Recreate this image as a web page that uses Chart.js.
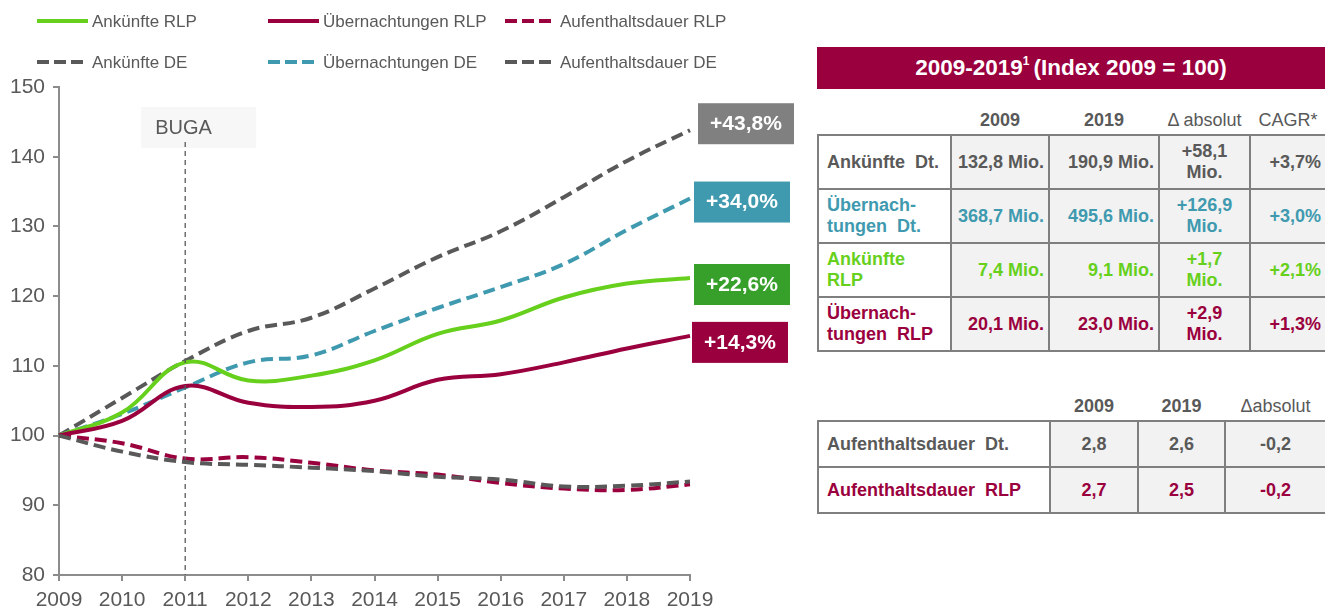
<!DOCTYPE html>
<html lang="de">
<head>
<meta charset="utf-8">
<script src="https://cdn.jsdelivr.net/npm/chart.js@4/dist/chart.umd.min.js"></script>
<style>
  html, body { margin: 0; padding: 0; background: #fff; }
  body { width: 1325px; height: 607px; position: relative; overflow: hidden; font-family: "Liberation Sans", Arial, sans-serif; }
  #chartBox { position: absolute; left: 0; top: 0; width: 800px; height: 607px; }
  .head { position: absolute; left: 817px; top: 47px; width: 508px; height: 42px; background: #9b003e; color: #fff;
    font-weight: bold; font-size: 22.5px; display: flex; align-items: center; justify-content: center; }
  .head sup { font-size: 12px; position: relative; top: -2px; margin-right: 4px; }
  table { position: absolute; border-collapse: collapse; font-size: 18px; font-weight: bold; }
  td { border: 2px solid #7f7f7f; background: #f2f2f2; padding: 0 4px; line-height: 21px; white-space: nowrap; }
  td.lbl { background: #fff; text-align: left; padding-left: 8px; }
  th { font-size: 18px; color: #595959; padding: 0 0 2px 0; border: none; background: none; height: 24px; }
  th.n { font-weight: normal; }
  #t1 { left: 817px; top: 108px; width: 510px; }
  #t2 { left: 817px; top: 394px; width: 510px; }
  #t1 td { height: 52px; }
  #t2 td { height: 44px; text-align: center; }
  #t2 td.lbl { text-align: left; }
  .r { text-align: right; }
  .c { text-align: center; }
</style>
</head>
<body>
<div id="chartBox"><canvas id="chart" width="800" height="607"></canvas></div>
<div class="head"><span>2009-2019<sup>1</sup>(Index 2009 = 100)</span></div>
<table id="t1"></table>
<table id="t2"></table>
<script>
  const years = ['2009', '2010', '2011', '2012', '2013', '2014', '2015', '2016', '2017', '2018', '2019'];
  const ankuenfteRLP = [100, 103.3, 110.5, 107.9, 108.6, 110.8, 114.6, 116.5, 119.8, 121.8, 122.6];
  const uebernachtungenRLP = [100, 102.1, 107.1, 104.7, 104.1, 105.0, 108.0, 108.8, 110.5, 112.5, 114.3];
  const aufenthaltRLP = [100, 98.9, 96.7, 96.9, 96.1, 95.0, 94.4, 93.2, 92.4, 92.2, 93.0];
  const ankuenfteDE = [100, 105.4, 110.7, 115.0, 116.9, 121.1, 125.6, 129.3, 134.2, 139.4, 143.8];
  const uebernachtungenDE = [100, 103.1, 106.9, 110.5, 111.5, 115.0, 118.3, 121.3, 124.6, 129.5, 134.0];
  const aufenthaltDE = [100, 97.7, 96.2, 95.8, 95.4, 94.9, 94.1, 93.7, 92.7, 92.8, 93.4];

  const yTicks = [80, 90, 100, 110, 120, 130, 140, 150];
  const bugaYear = '2011';
  const endLabels = ['+43,8%', '+34,0%', '+22,6%', '+14,3%'];

  const tableHead = ['2009', '2019', '\u0394 absolut', 'CAGR*'];
  const tableNames = ['Ankünfte&nbsp; Dt.', 'Übernach-<br>tungen&nbsp; Dt.', 'Ankünfte<br>RLP', 'Übernach-<br>tungen&nbsp; RLP'];
  const tableStart = ['132,8 Mio.', '368,7 Mio.', '7,4 Mio.', '20,1 Mio.'];
  const tableEnd = ['190,9 Mio.', '495,6 Mio.', '9,1 Mio.', '23,0 Mio.'];
  const tableDelta = ['+58,1<br>Mio.', '+126,9<br>Mio.', '+1,7<br>Mio.', '+2,9<br>Mio.'];
  const tableCagr = ['+3,7%', '+3,0%', '+2,1%', '+1,3%'];

  const stayHead = ['2009', '2019', '\u0394absolut'];
  const stayNames = ['Aufenthaltsdauer&nbsp; Dt.', 'Aufenthaltsdauer&nbsp; RLP'];
  const stayStart = ['2,8', '2,7'];
  const stayEnd = ['2,6', '2,5'];
  const stayDelta = ['-0,2', '-0,2'];

  const C = {
    green: '#66d01c', greenBox: '#36a02a', maroon: '#9b003e', teal: '#3f9aaf',
    gray: '#595959', grayBox: '#808080', axis: '#8c8c8c',
  };
  const FONT = '"Liberation Sans", Arial, sans-serif';

  function byId(id) {
    return document.getElementById(id);
  }

  function renderTables() {
    const rowColors = [C.gray, C.teal, C.green, C.maroon];
    byId('t1').innerHTML =
      `<tr><th></th><th>${tableHead[0]}</th><th>${tableHead[1]}</th><th class="n">${tableHead[2]}</th><th class="n">${tableHead[3]}</th></tr>` +
      tableNames
        .map(
          (name, i) => `<tr style="color:${rowColors[i]}">
            <td class="lbl" style="width:119px">${name}</td>
            <td class="r" style="width:88px">${tableStart[i]}</td>
            <td class="r" style="width:100px">${tableEnd[i]}</td>
            <td class="c" style="width:81px">${tableDelta[i]}</td>
            <td class="r">${tableCagr[i]}</td></tr>`
        )
        .join('');

    const stayColors = [C.gray, C.maroon];
    byId('t2').innerHTML =
      `<tr><th></th><th>${stayHead[0]}</th><th>${stayHead[1]}</th><th class="n">${stayHead[2]}</th></tr>` +
      stayNames
        .map(
          (name, i) => `<tr style="color:${stayColors[i]}">
            <td class="lbl" style="width:218px">${name}</td>
            <td style="width:78px">${stayStart[i]}</td>
            <td style="width:77px">${stayEnd[i]}</td>
            <td>${stayDelta[i]}</td></tr>`
        )
        .join('');
  }

  // legend rows, BUGA marker and the boxed end labels
  const decorations = {
    id: 'decorations',
    afterDatasetsDraw(chart) {
      const { ctx, scales } = chart;
      const x = scales.x;
      const y = scales.y;
      ctx.save();

      const bx = x.getPixelForValue(years.indexOf(bugaYear));
      ctx.fillStyle = '#f7f7f7';
      ctx.fillRect(bx - 44, 107, 115, 41);
      ctx.fillStyle = C.gray;
      ctx.font = `20px ${FONT}`;
      ctx.textBaseline = 'middle';
      ctx.fillText('BUGA', bx - 30, 128);
      ctx.strokeStyle = C.gray;
      ctx.lineWidth = 1.3;
      ctx.setLineDash([5, 4]);
      ctx.beginPath();
      ctx.moveTo(bx, 142);
      ctx.lineTo(bx, y.bottom);
      ctx.stroke();
      ctx.setLineDash([]);

      const boxed = [
        { data: ankuenfteDE, color: C.grayBox, dy: -7, dx: 8 },
        { data: uebernachtungenDE, color: C.teal, dy: 3, dx: 4 },
        { data: ankuenfteRLP, color: C.greenBox, dy: 6, dx: 4 },
        { data: uebernachtungenRLP, color: C.maroon, dy: 6, dx: 2 },
      ];
      ctx.font = `bold 21px ${FONT}`;
      ctx.textAlign = 'center';
      boxed.forEach((b, i) => {
        const last = b.data.length - 1;
        const px = x.getPixelForValue(last) + b.dx;
        const py = y.getPixelForValue(b.data[last]) + b.dy;
        ctx.fillStyle = b.color;
        ctx.fillRect(px, py - 20, 96, 41);
        ctx.fillStyle = '#fff';
        ctx.fillText(endLabels[i], px + 48, py + 1);
      });

      const legendPos = [
        [37, 21], [268, 21], [505, 21],
        [37, 62], [268, 62], [505, 62],
      ];
      ctx.textAlign = 'left';
      ctx.font = `17px ${FONT}`;
      chart.data.datasets.forEach((ds) => {
        const [lx, ly] = legendPos[ds.legendSlot];
        ctx.strokeStyle = ds.borderColor;
        ctx.lineWidth = 4;
        ctx.setLineDash(ds.borderDash.length ? [12, 5] : []);
        ctx.beginPath();
        ctx.moveTo(lx, ly);
        ctx.lineTo(lx + 51, ly);
        ctx.stroke();
        ctx.setLineDash([]);
        ctx.fillStyle = C.gray;
        ctx.fillText(ds.label, lx + 55, ly + 1);
      });
      ctx.restore();
    },
  };

  function line(label, data, color, dashed, slot) {
    return {
      label,
      data,
      borderColor: color,
      backgroundColor: color,
      borderWidth: 4,
      borderDash: dashed ? [12, 6] : [],
      pointRadius: 0,
      tension: 0.4,
      fill: false,
      legendSlot: slot,
    };
  }

  function renderChart() {
    new Chart(byId('chart'), {
      type: 'line',
      data: {
        labels: years,
        datasets: [
          line('Aufenthaltsdauer DE', aufenthaltDE, C.gray, true, 5),
          line('Aufenthaltsdauer RLP', aufenthaltRLP, C.maroon, true, 2),
          line('Übernachtungen RLP', uebernachtungenRLP, C.maroon, false, 1),
          line('Ankünfte RLP', ankuenfteRLP, C.green, false, 0),
          line('Übernachtungen DE', uebernachtungenDE, C.teal, true, 4),
          line('Ankünfte DE', ankuenfteDE, C.gray, true, 3),
        ],
      },
      options: {
        responsive: false,
        animation: false,
        layout: { padding: { top: 87, right: 110, left: 0, bottom: 0 } },
        plugins: { legend: { display: false }, tooltip: { enabled: false } },
        scales: {
          x: {
            offset: false,
            afterFit(scale) { scale.height = 32; },
            border: { color: C.axis, width: 2 },
            grid: { drawOnChartArea: false, color: C.axis, tickLength: 6, lineWidth: 2 },
            ticks: { color: C.gray, font: { family: FONT, size: 21 }, padding: 7, maxRotation: 0, autoSkip: false },
          },
          y: {
            min: yTicks[0],
            max: yTicks[yTicks.length - 1],
            afterFit(scale) { scale.width = 59; },
            afterBuildTicks(scale) { scale.ticks = yTicks.map((v) => ({ value: v })); },
            border: { color: C.axis, width: 2 },
            grid: { drawOnChartArea: false, color: C.axis, tickLength: 6, lineWidth: 2 },
            ticks: { color: C.gray, font: { family: FONT, size: 21 }, padding: 8 },
          },
        },
      },
      plugins: [decorations],
    });
  }

  renderTables();
  renderChart();
</script>
</body>
</html>
